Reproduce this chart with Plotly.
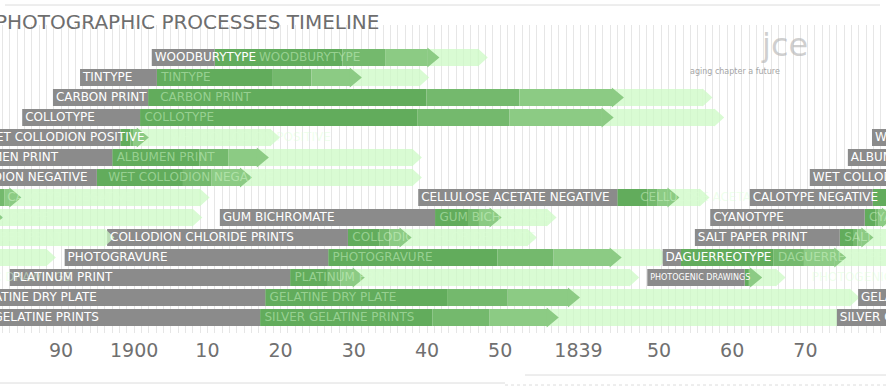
import plotly.graph_objects as go

# ---------------- data (years) ----------------
names = ["Woodburytype", "Tintype", "Carbon print", "Collotype",
         "Wet collodion positive", "Albumen print", "Wet collodion negative",
         "Cellulose acetate negative", "Calotype negative",
         "Gum bichromate", "Cyanotype",
         "Collodion chloride prints", "Salt paper print",
         "Photogravure", "Daguerreotype",
         "Platinum print", "Photogenic drawings",
         "Gelatine dry plate", "Silver gelatine prints"]
rows = [1, 2, 3, 4, 5, 6, 7, 8, 8, 9, 9, 10, 10, 11, 11, 12, 12, 13, 14]
label_start = [1902.4, 1892.6, 1888.9, 1884.7, 1879.1, 1875.8, 1870.6,
               1938.8, 1862.4, 1911.7, 1857.0, 1896.3, 1854.9,
               1890.5, 1850.5, 1883.0, 1848.4, 1877.2, 1874.3]
start_year = [1911.0, 1903.1, 1901.9, 1900.8, 1898.1, 1897.0, 1894.9,
              1966.0, 1879.2, 1941.1, 1878.1, 1929.2, 1874.7,
              1926.5, 1853.0, 1921.3, 1861.7, 1917.9, 1917.2]
arrow_year = [1940.1, 1929.5, 1965.3, 1963.9, 1900.4, 1916.8, 1914.5,
              1972.9, 1883.0, 1948.6, 1880.5, 1936.3, 1877.7,
              1965.0, 1874.0, 1929.9, 1862.5, 1959.3, 1956.4]
fade_year = [1947.0, 1939.0, 1977.7, 1979.3, 1918.6, 1938.0, 1938.0,
             1977.3, 1909.0, 1956.4, 1908.0, 1953.7, 1896.0,
             1971.8, 1888.0, 1967.7, 1866.0, 1997.8, 1998.2]
small_label = [n == "Photogenic drawings" for n in names]

tick_late_vals = [1890, 1900, 1910, 1920, 1930, 1940, 1950]
tick_late_text = ["90", "1900", "10", "20", "30", "40", "50"]
tick_early_vals = [1839, 1850, 1860, 1870, 1880]
tick_early_text = ["1839", "50", "60", "70", "80"]

# ---------------- styling ----------------
GRAY = "#8b8b8b"
GREEN1 = "#62ac5c"
GREEN2 = "#74b96d"
GREEN3 = "#8ccb84"
FADE = "rgba(204,250,196,0.75)"
BAR_W = 0.85
PX_PER_YEAR = 7.32

fig = go.Figure()
AXES = ["x", "x2"]


def add_bars(base, end, color):
    for ax in AXES:
        fig.add_trace(go.Bar(
            y=rows, base=base, x=[e - b for b, e in zip(base, end)],
            orientation="h", width=BAR_W, marker=dict(color=color, line=dict(width=0)),
            xaxis=ax, yaxis="y", hoverinfo="skip", showlegend=False))


def add_arrows(at, color, half=0.5, length=1.6):
    xs, ys = [], []
    for a, r in zip(at, rows):
        xs += [a - 0.05, a + length, a - 0.05, None]
        ys += [r - half, r, r + half, None]
    for ax in AXES:
        fig.add_trace(go.Scatter(
            x=xs, y=ys, mode="lines", fill="toself", fillcolor=color,
            line=dict(width=0, color=color), xaxis=ax, yaxis="y",
            hoverinfo="skip", showlegend=False))


# faded extensions
add_bars(arrow_year, fade_year, FADE)
add_arrows(fade_year, FADE, half=0.45, length=1.3)

# solid bars with stepped gradient
seg1 = [s + 0.6 * (a - s) for s, a in zip(start_year, arrow_year)]
seg2 = [s + 0.8 * (a - s) for s, a in zip(start_year, arrow_year)]
add_bars(start_year, seg1, GREEN1)
add_bars(seg1, seg2, GREEN2)
add_bars(seg2, arrow_year, GREEN3)
add_arrows(arrow_year, GREEN3, half=0.5, length=1.6)

# gray label boxes
add_bars(label_start, start_year, GRAY)

# ghost labels inside the bars
ghost_x = [max(s + 0.6, l + 0.4 + len(n) * 8.2 / PX_PER_YEAR + 0.8)
           for n, l, s in zip(names, label_start, start_year)]
for ax in AXES:
    fig.add_trace(go.Scatter(
        x=ghost_x, y=rows, mode="text", text=[n.upper() for n in names],
        textposition="middle right",
        textfont=dict(family="DejaVu Sans", size=12, color="rgba(220,255,214,0.45)"),
        xaxis=ax, yaxis="y", hoverinfo="skip", showlegend=False, cliponaxis=True))

# white labels
text_x = [l + 0.4 for l in label_start]
for ax in AXES:
    fig.add_trace(go.Scatter(
        x=text_x, y=rows, mode="text", text=[n.upper() for n in names],
        textposition="middle right",
        textfont=dict(family="DejaVu Sans", color="white",
                      size=[8 if s else 12 for s in small_label]),
        xaxis=ax, yaxis="y", hoverinfo="skip", showlegend=False, cliponaxis=True))

# ---------------- layout ----------------
W, H = 886, 390
T, B = 25, 57
x_late_range = [1890 - 61 / PX_PER_YEAR, 1890 + (W - 61) / PX_PER_YEAR]
x_early_range = [1850 - 659 / PX_PER_YEAR, 1850 + (W - 659) / PX_PER_YEAR]
row_px0 = 57.5  # centre of first row
row_pitch = 20.0
y_top = 1 + (T - row_px0) / row_pitch
y_bot = 1 + (H - B - row_px0) / row_pitch

tickfont = dict(family="DejaVu Sans", size=19, color="#707070")
fig.update_layout(
    width=W, height=H,
    margin=dict(l=0, r=0, t=T, b=B, autoexpand=False),
    paper_bgcolor="white", plot_bgcolor="white",
    barmode="overlay", showlegend=False,
    xaxis=dict(range=x_late_range, tickvals=tick_late_vals, ticktext=tick_late_text,
               showgrid=True, gridcolor="#e6e6e6", gridwidth=1,
               minor=dict(dtick=1, tick0=1890, showgrid=True, gridcolor="#e6e6e6", gridwidth=1),
               zeroline=False, showline=False, ticks="", tickfont=tickfont,
               ticklabelstandoff=4, fixedrange=True),
    xaxis2=dict(range=x_early_range, overlaying="x", anchor="y", side="bottom",
                tickvals=tick_early_vals, ticktext=tick_early_text,
                showgrid=False, zeroline=False, showline=False, ticks="",
                tickfont=tickfont, ticklabelstandoff=4, fixedrange=True),
    yaxis=dict(range=[y_bot, y_top], showticklabels=False, showgrid=False,
               zeroline=False, fixedrange=True),
)

ph = H - T - B
# title
fig.add_annotation(text="PHOTOGRAPHIC PROCESSES TIMELINE", xref="paper", yref="paper",
                   x=-0.008, y=1 + (T - 22) / ph, xanchor="left", yanchor="middle",
                   showarrow=False, font=dict(family="DejaVu Sans", size=20, color="#6e6e6e"))
# logo
fig.add_annotation(text="jce", xref="paper", yref="paper", x=0.885, y=1 - (45 - T) / ph,
                   xanchor="center", yanchor="middle", showarrow=False,
                   font=dict(family="DejaVu Sans", size=32, color="rgba(175,175,175,0.6)"))
fig.add_annotation(text="aging chapter a future", xref="paper", yref="paper",
                   x=0.83, y=1 - (71 - T) / ph, xanchor="center", yanchor="middle",
                   showarrow=False, font=dict(family="DejaVu Sans", size=8, color="#a5a5a5"))

# frame lines
fig.add_shape(type="line", xref="paper", yref="paper", x0=5 / W, x1=880 / W,
              y0=1 + (T - 5) / ph, y1=1 + (T - 5) / ph, line=dict(color="#dcdcdc", width=1))
fig.add_shape(type="line", xref="paper", yref="paper", x0=0, x1=505 / W,
              y0=-(383 - (H - B)) / ph, y1=-(383 - (H - B)) / ph, line=dict(color="#dcdcdc", width=1))
fig.add_shape(type="line", xref="paper", yref="paper", x0=525 / W, x1=1,
              y0=-(375 - (H - B)) / ph, y1=-(375 - (H - B)) / ph, line=dict(color="#dcdcdc", width=1))
fig.add_shape(type="line", xref="paper", yref="paper", x0=505 / W, x1=1,
              y0=-(385 - (H - B)) / ph, y1=-(385 - (H - B)) / ph,
              line=dict(color="#dcdcdc", width=1, dash="dot"))

fig.write_html("out.html", config={"displayModeBar": False},
               post_script="document.body.style.margin='0';document.body.style.overflow='hidden';")
